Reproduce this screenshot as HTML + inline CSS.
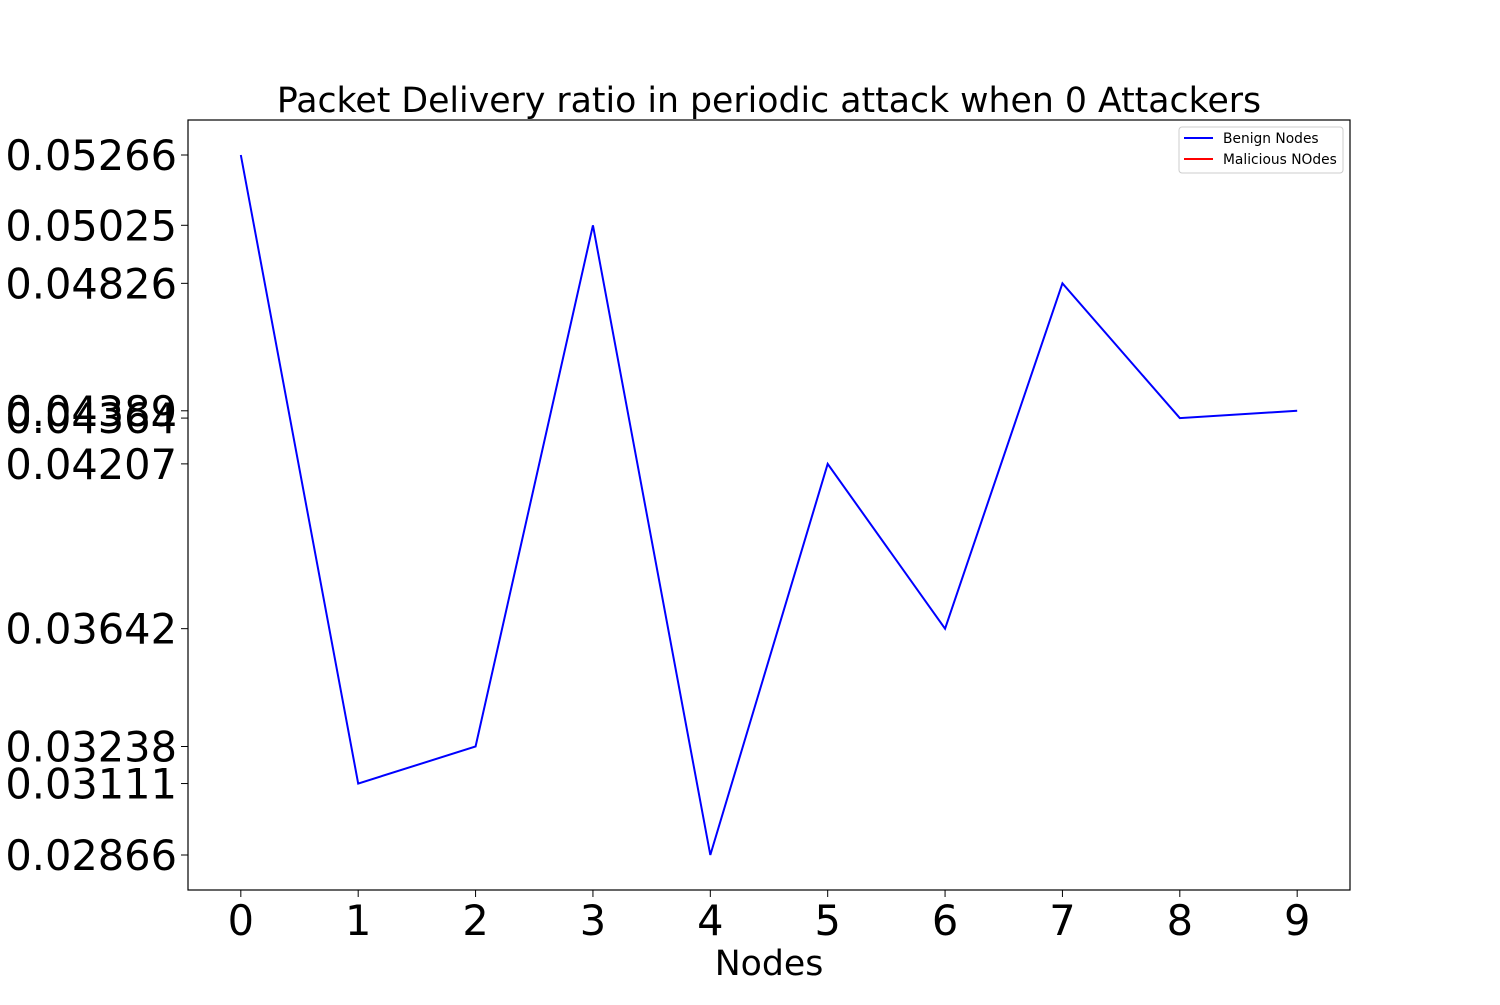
<!DOCTYPE html>
<html><head><meta charset="utf-8"><style>
body{margin:0;background:#fff;}
svg text{font-family:"DejaVu Sans","Liberation Sans",sans-serif;}
</style></head><body>
<svg id="chart" width="1500" height="1000" xmlns="http://www.w3.org/2000/svg">
<rect width="1500" height="1000" fill="#fff"/>
<text x="769" y="112" font-size="34.7" text-anchor="middle">Packet Delivery ratio in periodic attack when 0 Attackers</text>
<g id="yt"></g>
<g id="xt"></g>
<polyline id="benign" fill="none" stroke="#0000ff" stroke-width="2"/>
<rect x="188" y="120" width="1162" height="770" fill="none" stroke="#000" stroke-width="1.2"/>
<text x="769" y="975" font-size="34.7" text-anchor="middle">Nodes</text>
<g>
<rect x="1179" y="127" width="164" height="46" rx="3" fill="#fff" stroke="#ccc"/>
<line x1="1184" y1="138" x2="1213" y2="138" stroke="#0000ff" stroke-width="2"/>
<text x="1223" y="143" font-size="13.8">Benign Nodes</text>
<line x1="1184" y1="159" x2="1213" y2="159" stroke="#ff0000" stroke-width="2"/>
<text x="1223" y="164" font-size="13.8">Malicious NOdes</text>
</g>
</svg>
<script>
const nodes=[0,1,2,3,4,5,6,7,8,9];
const benign=[0.05266,0.03111,0.03238,0.05025,0.02866,0.04207,0.03642,0.04826,0.04364,0.04389];
const yTickLabels=["0.05266","0.03111","0.03238","0.05025","0.02866","0.04207","0.03642","0.04826","0.04364","0.04389"];
const L=188,R=1350,T=120,B=890;
const xmin=-0.45,xmax=9.45;
const dmin=Math.min(...benign),dmax=Math.max(...benign),pad=(dmax-dmin)*0.05;
const ymin=dmin-pad,ymax=dmax+pad;
const xs=v=>L+(v-xmin)/(xmax-xmin)*(R-L);
const ys=v=>B-(v-ymin)/(ymax-ymin)*(B-T);
const NS="http://www.w3.org/2000/svg";
const yt=document.getElementById('yt'),xt=document.getElementById('xt');
yTickLabels.forEach(l=>{const v=parseFloat(l),y=ys(v);
const ln=document.createElementNS(NS,'line');
ln.setAttribute('x1',L-7);ln.setAttribute('x2',L);ln.setAttribute('y1',y);ln.setAttribute('y2',y);ln.setAttribute('stroke','#000');


yt.appendChild(ln);
const t=document.createElementNS(NS,'text');
t.setAttribute('x',L-11);t.setAttribute('y',y+15);t.setAttribute('font-size','41.5');t.setAttribute('text-anchor','end');t.textContent=l;


yt.appendChild(t);});
nodes.forEach(n=>{const x=xs(n);
const ln=document.createElementNS(NS,'line');
ln.setAttribute('x1',x);ln.setAttribute('x2',x);ln.setAttribute('y1',B);ln.setAttribute('y2',B+7);ln.setAttribute('stroke','#000');


xt.appendChild(ln);
const t=document.createElementNS(NS,'text');
t.setAttribute('x',x);t.setAttribute('y',B+45);t.setAttribute('font-size','41.5');t.setAttribute('text-anchor','middle');t.textContent=n;


xt.appendChild(t);});
document.getElementById('benign').setAttribute('points',nodes.map((n,i)=>xs(n)+','+ys(benign[i])).join(' '));
</script>
</body></html>
